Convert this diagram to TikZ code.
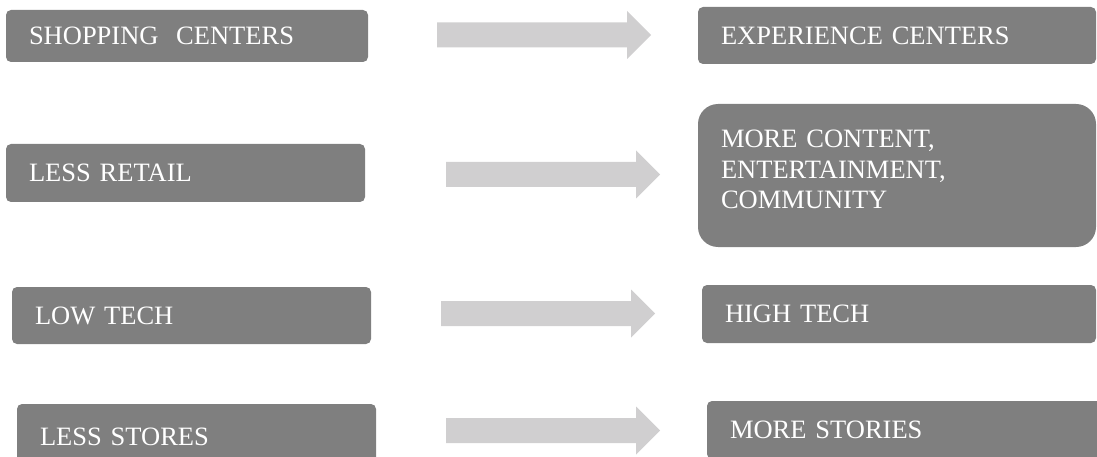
\documentclass[tikz,border=0pt]{standalone}
\usepackage{fontspec}
\setmainfont{Liberation Serif}
\usetikzlibrary{calc}

\definecolor{boxgray}{RGB}{127,127,127}
\definecolor{arrowgray}{RGB}{208,207,208}

\tikzset{
  stage/.style 2 args={fill=boxgray, text=white, rounded corners=5pt,
    inner xsep=23pt, inner ysep=0pt, align=left,
    text width=#1pt, minimum height=#2pt,
    font=\fontsize{26.5}{30.5}\selectfont}
}

\newcommand{\grayarrow}[2]{%
  \fill[arrowgray] ($(#1)+(0,-12.5)$) -- ($(#2)+(-24,-12.5)$) -- ($(#2)+(-24,-24)$)
    -- (#2) -- ($(#2)+(-24,24)$) -- ($(#2)+(-24,12.5)$) -- ($(#1)+(0,12.5)$) -- cycle;}

\begin{document}
\begin{tikzpicture}[x=1pt,y=-1pt]
                \clip (0,0) rectangle (1097,457);

                \node[stage={316}{52}] (shop) at (187,36) {SHOPPING\ \ CENTERS};
                \node[stage={313}{58}] (retail) at (185.5,173) {LESS RETAIL};
                \node[stage={313}{57}] (lowtech) at (191.5,315.5) {LOW TECH};
                \node[stage={313}{66}] (lessstores) at (196.5,437) {LESS STORES};

                \node[stage={352}{57}] (exper) at (897,35.5) {EXPERIENCE CENTERS};
                \node[stage={352}{143}, rounded corners=20pt, text depth=73pt] (content) at (897,175.5)
                    {MORE CONTENT,\\ENTERTAINMENT,\\COMMUNITY};
                \node[stage={348}{58}] (hightech) at (899,314) {HIGH TECH};
                \node[stage={353}{58}] (morestories) at (906.5,430) {MORE STORIES};

                \coordinate (a1) at (437,35);
                \coordinate (b1) at (651,35);
                \coordinate (a2) at (446,174.5);
                \coordinate (b2) at (660,174.5);
                \coordinate (a3) at (441,313.5);
                \coordinate (b3) at (655,313.5);
                \coordinate (a4) at (446,430.5);
                \coordinate (b4) at (660,430.5);

                \grayarrow{a1}{b1}
                \grayarrow{a2}{b2}
                \grayarrow{a3}{b3}
                \grayarrow{a4}{b4}

            \end{tikzpicture}
\end{document}
